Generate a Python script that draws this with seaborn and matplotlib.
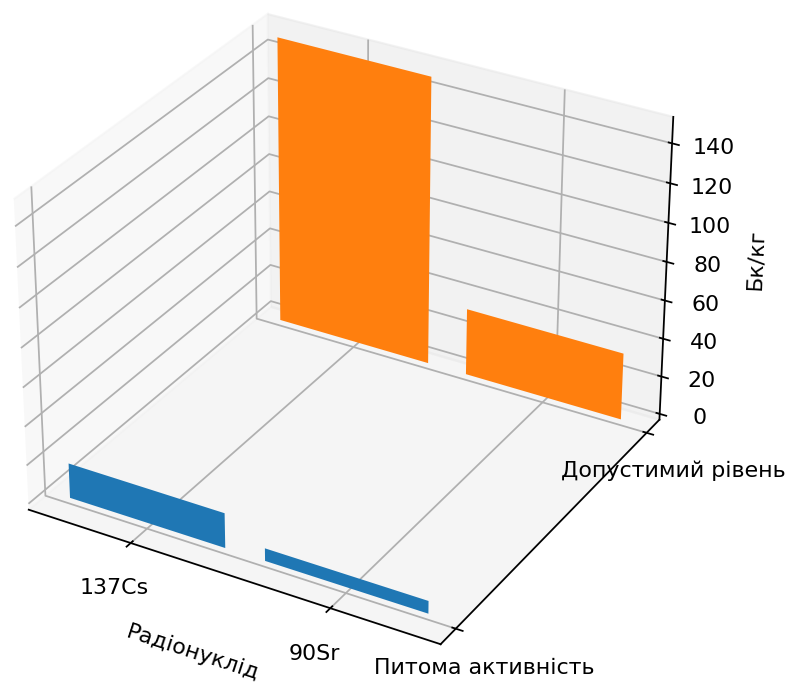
import matplotlib
matplotlib.use('Agg')
import matplotlib.pyplot as plt
import seaborn as sns

radionuclides = ['137Cs', '90Sr']
series_labels = ['Питома активність', 'Допустимий рівень']
measured = [18, 6.5]
allowed = [150, 35]

colors = sns.color_palette('tab10', 2)

fig = plt.figure(figsize=(787 / 159, 684 / 159), dpi=159)
ax = fig.add_axes([-0.104, -0.0095, 1.072, 1.072], projection='3d')

ax.bar([0, 1], measured, zs=0, zdir='y', color=colors[0], width=0.8)
ax.bar([0, 1], allowed, zs=1, zdir='y', color=colors[1], width=0.8)

ax.set_xticks([0, 1])
ax.set_xticklabels(radionuclides)
ax.set_yticks([0, 1])
ax.set_yticklabels(series_labels)
ax.set_xlabel('Радіонуклід')
ax.set_zlabel('Бк/кг')

fig.savefig('out.png')
